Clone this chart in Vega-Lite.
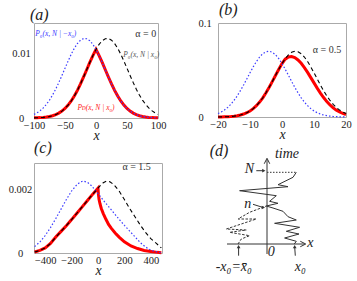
{
 "$schema": "https://vega.github.io/schema/vega-lite/v6.json",
 "padding": {"left": 0, "top": 1, "right": 0, "bottom": 0},
 "background": "white",
 "config": {
  "font": "Liberation Serif",
  "view": {"stroke": "#aaaaaa"},
  "axis": {"labelFont": "Liberation Serif", "labelFontSize": 10.5, "labelColor": "#222", "ticks": false, "tickSize": 0, "domain": false, "grid": false, "labelFlush": false, "titleFont": "Liberation Serif", "titleFontStyle": "italic", "titleFontWeight": "normal", "titleFontSize": 14, "titleColor": "#222"},
  "axisX": {"labelPadding": 2, "titlePadding": -2},
  "title": {"font": "Liberation Serif", "fontStyle": "italic", "fontWeight": "normal", "fontSize": 16, "anchor": "start", "frame": "group", "baseline": "alphabetic", "color": "#222"}
 },
 "datasets": {
  "a": [
   {"x": -100, "black": 0.000021, "blue": 0.000566, "red": 0.000021},
   {"x": -95, "black": 0.000035, "blue": 0.000815, "red": 0.000035},
   {"x": -90, "black": 0.000059, "blue": 0.001148, "red": 0.000059},
   {"x": -85, "black": 0.000095, "blue": 0.001579, "red": 0.000095},
   {"x": -80, "black": 0.000151, "blue": 0.002123, "red": 0.000151},
   {"x": -75, "black": 0.000234, "blue": 0.00279, "red": 0.000234},
   {"x": -70, "black": 0.000354, "blue": 0.003583, "red": 0.000354},
   {"x": -65, "black": 0.000525, "blue": 0.004497, "red": 0.000525},
   {"x": -60, "black": 0.000759, "blue": 0.005517, "red": 0.000759},
   {"x": -55, "black": 0.001074, "blue": 0.006614, "red": 0.001074},
   {"x": -50, "black": 0.001484, "blue": 0.007749, "red": 0.001484},
   {"x": -45, "black": 0.002005, "blue": 0.008873, "red": 0.002005},
   {"x": -40, "black": 0.002646, "blue": 0.009929, "red": 0.002646},
   {"x": -35, "black": 0.003414, "blue": 0.010859, "red": 0.003414},
   {"x": -30, "black": 0.004305, "blue": 0.011607, "red": 0.004305},
   {"x": -25, "black": 0.005305, "blue": 0.012124, "red": 0.005305},
   {"x": -20, "black": 0.00639, "blue": 0.012377, "red": 0.00639},
   {"x": -15, "black": 0.007521, "blue": 0.012349, "red": 0.007521},
   {"x": -10, "black": 0.008652, "blue": 0.012041, "red": 0.008652},
   {"x": -5, "black": 0.009726, "blue": 0.011474, "red": 0.009726},
   {"x": 0, "black": 0.010686, "blue": 0.010686, "red": 0.010686},
   {"x": 5, "black": 0.011474, "blue": 0.009726, "red": 0.009726},
   {"x": 10, "black": 0.012041, "blue": 0.008652, "red": 0.008652},
   {"x": 15, "black": 0.012349, "blue": 0.007521, "red": 0.007521},
   {"x": 20, "black": 0.012377, "blue": 0.00639, "red": 0.00639},
   {"x": 25, "black": 0.012124, "blue": 0.005305, "red": 0.005305},
   {"x": 30, "black": 0.011607, "blue": 0.004305, "red": 0.004305},
   {"x": 35, "black": 0.010859, "blue": 0.003414, "red": 0.003414},
   {"x": 40, "black": 0.009929, "blue": 0.002646, "red": 0.002646},
   {"x": 45, "black": 0.008873, "blue": 0.002005, "red": 0.002005},
   {"x": 50, "black": 0.007749, "blue": 0.001484, "red": 0.001484},
   {"x": 55, "black": 0.006614, "blue": 0.001074, "red": 0.001074},
   {"x": 60, "black": 0.005517, "blue": 0.000759, "red": 0.000759},
   {"x": 65, "black": 0.004497, "blue": 0.000525, "red": 0.000525},
   {"x": 70, "black": 0.003583, "blue": 0.000354, "red": 0.000354},
   {"x": 75, "black": 0.00279, "blue": 0.000234, "red": 0.000234},
   {"x": 80, "black": 0.002123, "blue": 0.000151, "red": 0.000151},
   {"x": 85, "black": 0.001579, "blue": 0.000095, "red": 0.000095},
   {"x": 90, "black": 0.001148, "blue": 0.000059, "red": 0.000059},
   {"x": 95, "black": 0.000815, "blue": 0.000035, "red": 0.000035},
   {"x": 100, "black": 0.000566, "blue": 0.000021, "red": 0.000021}
  ],
  "b": [
   {"x": -20, "black": 0.00007, "blue": 0.00365, "red": 0.00007},
   {"x": -19, "black": 0.00012, "blue": 0.00524, "red": 0.00012},
   {"x": -18, "black": 0.00021, "blue": 0.00735, "red": 0.00021},
   {"x": -17, "black": 0.00034, "blue": 0.01007, "red": 0.00034},
   {"x": -16, "black": 0.00056, "blue": 0.01347, "red": 0.00056},
   {"x": -15, "black": 0.00089, "blue": 0.0176, "red": 0.00089},
   {"x": -14, "black": 0.00139, "blue": 0.02246, "red": 0.00139},
   {"x": -13, "black": 0.00211, "blue": 0.028, "red": 0.00211},
   {"x": -12, "black": 0.00314, "blue": 0.03407, "red": 0.00314},
   {"x": -11, "black": 0.00455, "blue": 0.0405, "red": 0.00455},
   {"x": -10, "black": 0.00644, "blue": 0.04701, "red": 0.00644},
   {"x": -9, "black": 0.0089, "blue": 0.0533, "red": 0.0089},
   {"x": -8, "black": 0.01203, "blue": 0.059, "red": 0.01203},
   {"x": -7, "black": 0.01586, "blue": 0.0638, "red": 0.01586},
   {"x": -6, "black": 0.02044, "blue": 0.06737, "red": 0.02044},
   {"x": -5, "black": 0.02571, "blue": 0.06947, "red": 0.02571},
   {"x": -4, "black": 0.03159, "blue": 0.06997, "red": 0.03159},
   {"x": -3, "black": 0.0379, "blue": 0.06882, "red": 0.0379},
   {"x": -2, "black": 0.04442, "blue": 0.0661, "red": 0.04442},
   {"x": -1, "black": 0.05083, "blue": 0.06201, "red": 0.05083},
   {"x": 0, "black": 0.05681, "blue": 0.05681, "red": 0.05681},
   {"x": 1, "black": 0.06201, "blue": 0.05083, "red": 0.0615},
   {"x": 2, "black": 0.0661, "blue": 0.04442, "red": 0.0638},
   {"x": 3, "black": 0.06882, "blue": 0.0379, "red": 0.0643},
   {"x": 4, "black": 0.06997, "blue": 0.03159, "red": 0.0632},
   {"x": 5, "black": 0.06947, "blue": 0.02571, "red": 0.0607},
   {"x": 6, "black": 0.06737, "blue": 0.02044, "red": 0.0571},
   {"x": 7, "black": 0.0638, "blue": 0.01586, "red": 0.0526},
   {"x": 8, "black": 0.059, "blue": 0.01203, "red": 0.0475},
   {"x": 9, "black": 0.0533, "blue": 0.0089, "red": 0.0419},
   {"x": 10, "black": 0.04701, "blue": 0.00644, "red": 0.0363},
   {"x": 11, "black": 0.0405, "blue": 0.00455, "red": 0.0307},
   {"x": 12, "black": 0.03407, "blue": 0.00314, "red": 0.0254},
   {"x": 13, "black": 0.028, "blue": 0.00211, "red": 0.0207},
   {"x": 14, "black": 0.02246, "blue": 0.00139, "red": 0.0164},
   {"x": 15, "black": 0.0176, "blue": 0.00089, "red": 0.0128},
   {"x": 16, "black": 0.01347, "blue": 0.00056, "red": 0.0097},
   {"x": 17, "black": 0.01007, "blue": 0.00034, "red": 0.0073},
   {"x": 18, "black": 0.00735, "blue": 0.00021, "red": 0.0053},
   {"x": 19, "black": 0.00524, "blue": 0.00012, "red": 0.0038},
   {"x": 20, "black": 0.00365, "blue": 0.00007, "red": 0.0027}
  ],
  "c_black": [
   {"x": -480, "black": 0.00003}, {"x": -440, "black": 0.00008}, {"x": -400, "black": 0.00016},
   {"x": -360, "black": 0.0003}, {"x": -320, "black": 0.0005}, {"x": -280, "black": 0.00068},
   {"x": -240, "black": 0.00086}, {"x": -200, "black": 0.00105}, {"x": -160, "black": 0.00125},
   {"x": -120, "black": 0.00145}, {"x": -80, "black": 0.00165}, {"x": -40, "black": 0.00185},
   {"x": 0, "black": 0.00204}, {"x": 20, "black": 0.00213}, {"x": 40, "black": 0.00221},
   {"x": 65, "black": 0.00226}, {"x": 90, "black": 0.00224}, {"x": 120, "black": 0.00215},
   {"x": 160, "black": 0.00195}, {"x": 200, "black": 0.00168}, {"x": 240, "black": 0.0014},
   {"x": 280, "black": 0.00114}, {"x": 320, "black": 0.00088}, {"x": 360, "black": 0.00065},
   {"x": 400, "black": 0.00045}, {"x": 440, "black": 0.00031}, {"x": 480, "black": 0.00016}
  ],
  "c_blue": [
   {"x": -480, "blue": 0.0002}, {"x": -440, "blue": 0.00035}, {"x": -400, "blue": 0.00055},
   {"x": -360, "blue": 0.0008}, {"x": -320, "blue": 0.00108}, {"x": -280, "blue": 0.00138},
   {"x": -240, "blue": 0.00168}, {"x": -200, "blue": 0.00195}, {"x": -160, "blue": 0.00215},
   {"x": -130, "blue": 0.00224}, {"x": -110, "blue": 0.00226}, {"x": -80, "blue": 0.00222},
   {"x": -60, "blue": 0.00216}, {"x": -40, "blue": 0.00207}, {"x": -20, "blue": 0.00197},
   {"x": 0, "blue": 0.00187}, {"x": 40, "blue": 0.00166}, {"x": 80, "blue": 0.00146},
   {"x": 120, "blue": 0.00126}, {"x": 160, "blue": 0.00106}, {"x": 200, "blue": 0.00087},
   {"x": 240, "blue": 0.00069}, {"x": 280, "blue": 0.00051}, {"x": 320, "blue": 0.00033},
   {"x": 360, "blue": 0.00019}, {"x": 400, "blue": 0.00009}, {"x": 440, "blue": 0.00004},
   {"x": 480, "blue": 0.00001}
  ],
  "c_red": [
   {"x": -480, "red": 0.00003}, {"x": -440, "red": 0.00008}, {"x": -400, "red": 0.00016},
   {"x": -360, "red": 0.0003}, {"x": -320, "red": 0.0005}, {"x": -280, "red": 0.00068},
   {"x": -240, "red": 0.00086}, {"x": -200, "red": 0.00105}, {"x": -160, "red": 0.00125},
   {"x": -120, "red": 0.00145}, {"x": -80, "red": 0.00165}, {"x": -40, "red": 0.00185},
   {"x": 0, "red": 0.00204}, {"x": 3, "red": 0.00185}, {"x": 8, "red": 0.00168},
   {"x": 15, "red": 0.00155}, {"x": 25, "red": 0.0014}, {"x": 40, "red": 0.00124},
   {"x": 60, "red": 0.00106}, {"x": 80, "red": 0.0009}, {"x": 100, "red": 0.00078},
   {"x": 130, "red": 0.00063}, {"x": 160, "red": 0.0005}, {"x": 200, "red": 0.00035},
   {"x": 250, "red": 0.00022}, {"x": 300, "red": 0.00014}, {"x": 350, "red": 0.00008},
   {"x": 400, "red": 0.00005}, {"x": 450, "red": 0.00002}, {"x": 480, "red": 0.00001}
  ],
  "d_axes": [
   {"x": -40, "t": 0, "x2": 37, "t2": 0},
   {"x": 0, "t": -10, "x2": 0, "t2": 84}
  ],
  "d_solid": [
   {"i": 0, "x": 27.3, "t": 0}, {"i": 1, "x": 29.3, "t": 2.7}, {"i": 2, "x": 17.6, "t": 6},
   {"i": 3, "x": 32, "t": 10}, {"i": 4, "x": 19.3, "t": 12.7}, {"i": 5, "x": 32.6, "t": 16.7},
   {"i": 6, "x": 7.6, "t": 20.7}, {"i": 7, "x": 29.3, "t": 24}, {"i": 8, "x": 21, "t": 27.3},
   {"i": 9, "x": 16, "t": 32.7}, {"i": 10, "x": 6, "t": 36}, {"i": 11, "x": -0.7, "t": 38},
   {"i": 12, "x": 11, "t": 40.7}, {"i": 13, "x": 2.6, "t": 42.7}, {"i": 14, "x": 9.3, "t": 48.3},
   {"i": 15, "x": -27.4, "t": 53.3}, {"i": 16, "x": 21, "t": 57.3}, {"i": 17, "x": 11, "t": 59.3},
   {"i": 18, "x": 26, "t": 66.7}, {"i": 19, "x": 29.3, "t": 71.7}
  ],
  "d_dashed": [
   {"i": 0, "x": -29, "t": 0}, {"i": 1, "x": -25.7, "t": 5}, {"i": 2, "x": -17.4, "t": 8.3},
   {"i": 3, "x": -37.4, "t": 11.7}, {"i": 4, "x": -20.7, "t": 14}, {"i": 5, "x": -40.7, "t": 15},
   {"i": 6, "x": -10.7, "t": 25}, {"i": 7, "x": -29, "t": 25}, {"i": 8, "x": -17.4, "t": 31.7},
   {"i": 9, "x": -0.7, "t": 38}
  ],
  "d_dotted": [{"x": 0, "t": 71.7, "x2": 29.3, "t2": 71.7}],
  "d_shafts": [
   {"x": -10.7, "t": 73.3, "x2": -3.5, "t2": 73.3},
   {"x": -14, "t": 39.7, "x2": -4.2, "t2": 36.6},
   {"x": -28.4, "t": -11.7, "x2": -28.4, "t2": -3},
   {"x": 28.3, "t": -11.7, "x2": 27.7, "t2": -3}
  ],
  "d_head_right": [{"x": -3.2, "t": 73.3}, {"x": -3.6, "t": 36.5}],
  "d_head_up": [{"x": -28.4, "t": -2.6}, {"x": 27.7, "t": -2.6}],
  "d_chev_right": [{"x": 36, "t": 0}],
  "d_chev_up": [{"x": 0, "t": 83}],
  "d_labels": [
   {"x": 20, "t": 90, "label": "time"},
   {"x": -17.7, "t": 75.5, "label": "N"},
   {"x": -19.2, "t": 40.5, "label": "n"},
   {"x": 43.3, "t": 1.5, "label": "x"},
   {"x": 4.3, "t": -8, "label": "0"},
   {"x": -33.2, "t": -23, "label": "-x₀=x̄₀"},
   {"x": 33.3, "t": -23, "label": "x₀"}
  ],
  "d_title": [{"x": -47.9, "t": 93.5, "label": "(d)"}]
 },
 "spacing": -4,
 "vconcat": [
  {
   "spacing": 30,
   "hconcat": [
    {
     "width": 124, "height": 95,
     "title": {"text": "(a)", "dx": -4, "offset": 0.5},
     "data": {"name": "a"},
     "layer": [
      {"mark": {"type": "line", "color": "#ff0000", "strokeWidth": 3},
       "encoding": {
        "x": {"field": "x", "type": "quantitative", "scale": {"domain": [-100, 100], "nice": false, "zero": false}, "axis": {"values": [-100, -50, 0, 50, 100], "title": "x"}},
        "y": {"field": "red", "type": "quantitative", "scale": {"domain": [0, 0.0148], "nice": false}, "axis": {"values": [0, 0.01], "format": "~g", "title": null, "labelAlign": "center", "labelPadding": 13, "minExtent": 33.5}}}},
      {"mark": {"type": "line", "color": "#3b3bff", "strokeWidth": 1.2, "strokeDash": [1.5, 2]},
       "encoding": {
        "x": {"field": "x", "type": "quantitative", "scale": {"domain": [-100, 100], "nice": false, "zero": false}, "axis": {"values": [-100, -50, 0, 50, 100], "title": "x"}},
        "y": {"field": "blue", "type": "quantitative", "scale": {"domain": [0, 0.0148], "nice": false}, "axis": {"values": [0, 0.01], "format": "~g", "title": null, "labelAlign": "center", "labelPadding": 13, "minExtent": 33.5}}}},
      {"mark": {"type": "line", "color": "#000000", "strokeWidth": 1.1, "strokeDash": [4, 3]},
       "encoding": {
        "x": {"field": "x", "type": "quantitative", "scale": {"domain": [-100, 100], "nice": false, "zero": false}, "axis": {"values": [-100, -50, 0, 50, 100], "title": "x"}},
        "y": {"field": "black", "type": "quantitative", "scale": {"domain": [0, 0.0148], "nice": false}, "axis": {"values": [0, 0.01], "format": "~g", "title": null, "labelAlign": "center", "labelPadding": 13, "minExtent": 33.5}}}},
      {"data": {"values": [
        {"x": -98, "y": 0.0131, "label": "P₀(x, N | −x₀)", "c": "blue"},
        {"x": 44, "y": 0.0098, "label": "P₀(x, N | x₀)", "c": "gray"},
        {"x": -30, "y": 0.0016, "label": "Pᴅ(x, N | x₀)", "c": "red"}]},
       "mark": {"type": "text", "align": "left", "baseline": "middle", "fontSize": 7.5, "fontStyle": "italic"},
       "encoding": {
        "x": {"field": "x", "type": "quantitative", "scale": {"domain": [-100, 100], "nice": false, "zero": false}, "axis": {"values": [-100, -50, 0, 50, 100], "title": "x"}},
        "y": {"field": "y", "type": "quantitative", "scale": {"domain": [0, 0.0148], "nice": false}, "axis": {"values": [0, 0.01], "format": "~g", "title": null, "labelAlign": "center", "labelPadding": 13, "minExtent": 33.5}},
        "text": {"field": "label"},
        "color": {"field": "c", "type": "nominal", "scale": {"domain": ["blue", "gray", "red"], "range": ["#3b3bff", "#555555", "#ff2020"]}, "legend": null}}},
      {"data": {"values": [{"x": 97, "y": 0.0131, "label": "α = 0"}]},
       "mark": {"type": "text", "align": "right", "baseline": "middle", "fontSize": 10, "color": "#333"},
       "encoding": {
        "x": {"field": "x", "type": "quantitative", "scale": {"domain": [-100, 100], "nice": false, "zero": false}, "axis": {"values": [-100, -50, 0, 50, 100], "title": "x"}},
        "y": {"field": "y", "type": "quantitative", "scale": {"domain": [0, 0.0148], "nice": false}, "axis": {"values": [0, 0.01], "format": "~g", "title": null, "labelAlign": "center", "labelPadding": 13, "minExtent": 33.5}},
        "text": {"field": "label"}}}
     ]
    },
    {
     "width": 128, "height": 94,
     "title": {"text": "(b)", "dx": 1, "offset": 0},
     "data": {"name": "b"},
     "layer": [
      {"mark": {"type": "line", "color": "#ff0000", "strokeWidth": 3},
       "encoding": {
        "x": {"field": "x", "type": "quantitative", "scale": {"domain": [-20, 20], "nice": false, "zero": false}, "axis": {"values": [-20, -10, 0, 10, 20], "title": "x"}},
        "y": {"field": "red", "type": "quantitative", "scale": {"domain": [0, 0.1], "nice": false}, "axis": {"values": [0, 0.1], "format": "~g", "title": null, "labelAlign": "left", "labelPadding": 20, "minExtent": 20}}}},
      {"mark": {"type": "line", "color": "#3b3bff", "strokeWidth": 1.2, "strokeDash": [1.5, 2]},
       "encoding": {
        "x": {"field": "x", "type": "quantitative", "scale": {"domain": [-20, 20], "nice": false, "zero": false}, "axis": {"values": [-20, -10, 0, 10, 20], "title": "x"}},
        "y": {"field": "blue", "type": "quantitative", "scale": {"domain": [0, 0.1], "nice": false}, "axis": {"values": [0, 0.1], "format": "~g", "title": null, "labelAlign": "left", "labelPadding": 20, "minExtent": 20}}}},
      {"mark": {"type": "line", "color": "#000000", "strokeWidth": 1.1, "strokeDash": [4, 3]},
       "encoding": {
        "x": {"field": "x", "type": "quantitative", "scale": {"domain": [-20, 20], "nice": false, "zero": false}, "axis": {"values": [-20, -10, 0, 10, 20], "title": "x"}},
        "y": {"field": "black", "type": "quantitative", "scale": {"domain": [0, 0.1], "nice": false}, "axis": {"values": [0, 0.1], "format": "~g", "title": null, "labelAlign": "left", "labelPadding": 20, "minExtent": 20}}}},
      {"data": {"values": [{"x": 18.5, "y": 0.0712, "label": "α = 0.5"}]},
       "mark": {"type": "text", "align": "right", "baseline": "middle", "fontSize": 10, "color": "#333"},
       "encoding": {
        "x": {"field": "x", "type": "quantitative", "scale": {"domain": [-20, 20], "nice": false, "zero": false}, "axis": {"values": [-20, -10, 0, 10, 20], "title": "x"}},
        "y": {"field": "y", "type": "quantitative", "scale": {"domain": [0, 0.1], "nice": false}, "axis": {"values": [0, 0.1], "format": "~g", "title": null, "labelAlign": "left", "labelPadding": 20, "minExtent": 20}},
        "text": {"field": "label"}}}
     ]
    }
   ]
  },
  {
   "spacing": 41,
   "hconcat": [
    {
     "width": 128, "height": 90,
     "title": {"text": "(c)", "offset": 6},
     "layer": [
      {"data": {"name": "c_red"},
       "mark": {"type": "line", "color": "#ff0000", "strokeWidth": 3},
       "encoding": {
        "x": {"field": "x", "type": "quantitative", "scale": {"domain": [-485, 485], "nice": false, "zero": false}, "axis": {"values": [-400, -200, 0, 200, 400], "title": "x"}},
        "y": {"field": "red", "type": "quantitative", "scale": {"domain": [0, 0.00283], "nice": false}, "axis": {"values": [0, 0.002], "format": "~g", "title": null, "labelAlign": "center", "labelPadding": 14, "minExtent": 30}}}},
      {"data": {"name": "c_blue"},
       "mark": {"type": "line", "color": "#3b3bff", "strokeWidth": 1.2, "strokeDash": [1.5, 2]},
       "encoding": {
        "x": {"field": "x", "type": "quantitative", "scale": {"domain": [-485, 485], "nice": false, "zero": false}, "axis": {"values": [-400, -200, 0, 200, 400], "title": "x"}},
        "y": {"field": "blue", "type": "quantitative", "scale": {"domain": [0, 0.00283], "nice": false}, "axis": {"values": [0, 0.002], "format": "~g", "title": null, "labelAlign": "center", "labelPadding": 14, "minExtent": 30}}}},
      {"data": {"name": "c_black"},
       "mark": {"type": "line", "color": "#000000", "strokeWidth": 1.1, "strokeDash": [4, 3]},
       "encoding": {
        "x": {"field": "x", "type": "quantitative", "scale": {"domain": [-485, 485], "nice": false, "zero": false}, "axis": {"values": [-400, -200, 0, 200, 400], "title": "x"}},
        "y": {"field": "black", "type": "quantitative", "scale": {"domain": [0, 0.00283], "nice": false}, "axis": {"values": [0, 0.002], "format": "~g", "title": null, "labelAlign": "center", "labelPadding": 14, "minExtent": 30}}}},
      {"data": {"values": [{"x": 400, "y": 0.0027, "label": "α = 1.5"}]},
       "mark": {"type": "text", "align": "right", "baseline": "middle", "fontSize": 10, "color": "#333"},
       "encoding": {
        "x": {"field": "x", "type": "quantitative", "scale": {"domain": [-485, 485], "nice": false, "zero": false}, "axis": {"values": [-400, -200, 0, 200, 400], "title": "x"}},
        "y": {"field": "y", "type": "quantitative", "scale": {"domain": [0, 0.00283], "nice": false}, "axis": {"values": [0, 0.002], "format": "~g", "title": null, "labelAlign": "center", "labelPadding": 14, "minExtent": 30}},
        "text": {"field": "label"}}}
     ]
    },
    {
     "width": 109, "height": 116,
     "view": {"stroke": null},
     "layer": [
      {"data": {"name": "d_axes"},
       "mark": {"type": "rule", "color": "#333", "strokeWidth": 1},
       "encoding": {
        "x": {"field": "x", "type": "quantitative", "scale": {"domain": [-58, 51], "nice": false, "zero": false}, "axis": null},
        "y": {"field": "t", "type": "quantitative", "scale": {"domain": [-35, 81], "nice": false, "zero": false}, "axis": null},
        "x2": {"field": "x2"}, "y2": {"field": "t2"}}},
      {"data": {"name": "d_dotted"},
       "mark": {"type": "rule", "color": "#333", "strokeWidth": 1, "strokeDash": [1.5, 1.5]},
       "encoding": {
        "x": {"field": "x", "type": "quantitative", "scale": {"domain": [-58, 51], "nice": false, "zero": false}, "axis": null},
        "y": {"field": "t", "type": "quantitative", "scale": {"domain": [-35, 81], "nice": false, "zero": false}, "axis": null},
        "x2": {"field": "x2"}, "y2": {"field": "t2"}}},
      {"data": {"name": "d_shafts"},
       "mark": {"type": "rule", "color": "#333", "strokeWidth": 1},
       "encoding": {
        "x": {"field": "x", "type": "quantitative", "scale": {"domain": [-58, 51], "nice": false, "zero": false}, "axis": null},
        "y": {"field": "t", "type": "quantitative", "scale": {"domain": [-35, 81], "nice": false, "zero": false}, "axis": null},
        "x2": {"field": "x2"}, "y2": {"field": "t2"}}},
      {"data": {"name": "d_solid"},
       "mark": {"type": "line", "color": "#333", "strokeWidth": 1},
       "encoding": {
        "x": {"field": "x", "type": "quantitative", "scale": {"domain": [-58, 51], "nice": false, "zero": false}, "axis": null},
        "y": {"field": "t", "type": "quantitative", "scale": {"domain": [-35, 81], "nice": false, "zero": false}, "axis": null},
        "order": {"field": "i", "type": "quantitative"}}},
      {"data": {"name": "d_dashed"},
       "mark": {"type": "line", "color": "#333", "strokeWidth": 1, "strokeDash": [2.5, 1.5]},
       "encoding": {
        "x": {"field": "x", "type": "quantitative", "scale": {"domain": [-58, 51], "nice": false, "zero": false}, "axis": null},
        "y": {"field": "t", "type": "quantitative", "scale": {"domain": [-35, 81], "nice": false, "zero": false}, "axis": null},
        "order": {"field": "i", "type": "quantitative"}}},
      {"data": {"name": "d_head_right"},
       "mark": {"type": "point", "shape": "triangle-right", "filled": true, "size": 14, "color": "#333", "opacity": 1},
       "encoding": {
        "x": {"field": "x", "type": "quantitative", "scale": {"domain": [-58, 51], "nice": false, "zero": false}, "axis": null},
        "y": {"field": "t", "type": "quantitative", "scale": {"domain": [-35, 81], "nice": false, "zero": false}, "axis": null}}},
      {"data": {"name": "d_head_up"},
       "mark": {"type": "point", "shape": "triangle-up", "filled": true, "size": 14, "color": "#333", "opacity": 1},
       "encoding": {
        "x": {"field": "x", "type": "quantitative", "scale": {"domain": [-58, 51], "nice": false, "zero": false}, "axis": null},
        "y": {"field": "t", "type": "quantitative", "scale": {"domain": [-35, 81], "nice": false, "zero": false}, "axis": null}}},
      {"data": {"name": "d_chev_right"},
       "mark": {"type": "point", "shape": "M-1,-1L1,0L-1,1", "filled": false, "size": 30, "color": "#333", "strokeWidth": 1, "opacity": 1},
       "encoding": {
        "x": {"field": "x", "type": "quantitative", "scale": {"domain": [-58, 51], "nice": false, "zero": false}, "axis": null},
        "y": {"field": "t", "type": "quantitative", "scale": {"domain": [-35, 81], "nice": false, "zero": false}, "axis": null}}},
      {"data": {"name": "d_chev_up"},
       "mark": {"type": "point", "shape": "M-1,1L0,-1L1,1", "filled": false, "size": 30, "color": "#333", "strokeWidth": 1, "opacity": 1},
       "encoding": {
        "x": {"field": "x", "type": "quantitative", "scale": {"domain": [-58, 51], "nice": false, "zero": false}, "axis": null},
        "y": {"field": "t", "type": "quantitative", "scale": {"domain": [-35, 81], "nice": false, "zero": false}, "axis": null}}},
      {"data": {"name": "d_labels"},
       "mark": {"type": "text", "fontSize": 14, "fontStyle": "italic", "color": "#222", "align": "center", "baseline": "middle"},
       "encoding": {
        "x": {"field": "x", "type": "quantitative", "scale": {"domain": [-58, 51], "nice": false, "zero": false}, "axis": null},
        "y": {"field": "t", "type": "quantitative", "scale": {"domain": [-35, 81], "nice": false, "zero": false}, "axis": null},
        "text": {"field": "label"}}},
      {"data": {"name": "d_title"},
       "mark": {"type": "text", "fontSize": 16, "fontStyle": "italic", "color": "#222", "align": "center", "baseline": "middle"},
       "encoding": {
        "x": {"field": "x", "type": "quantitative", "scale": {"domain": [-58, 51], "nice": false, "zero": false}, "axis": null},
        "y": {"field": "t", "type": "quantitative", "scale": {"domain": [-35, 81], "nice": false, "zero": false}, "axis": null},
        "text": {"field": "label"}}}
     ]
    }
   ]
  }
 ]
}
